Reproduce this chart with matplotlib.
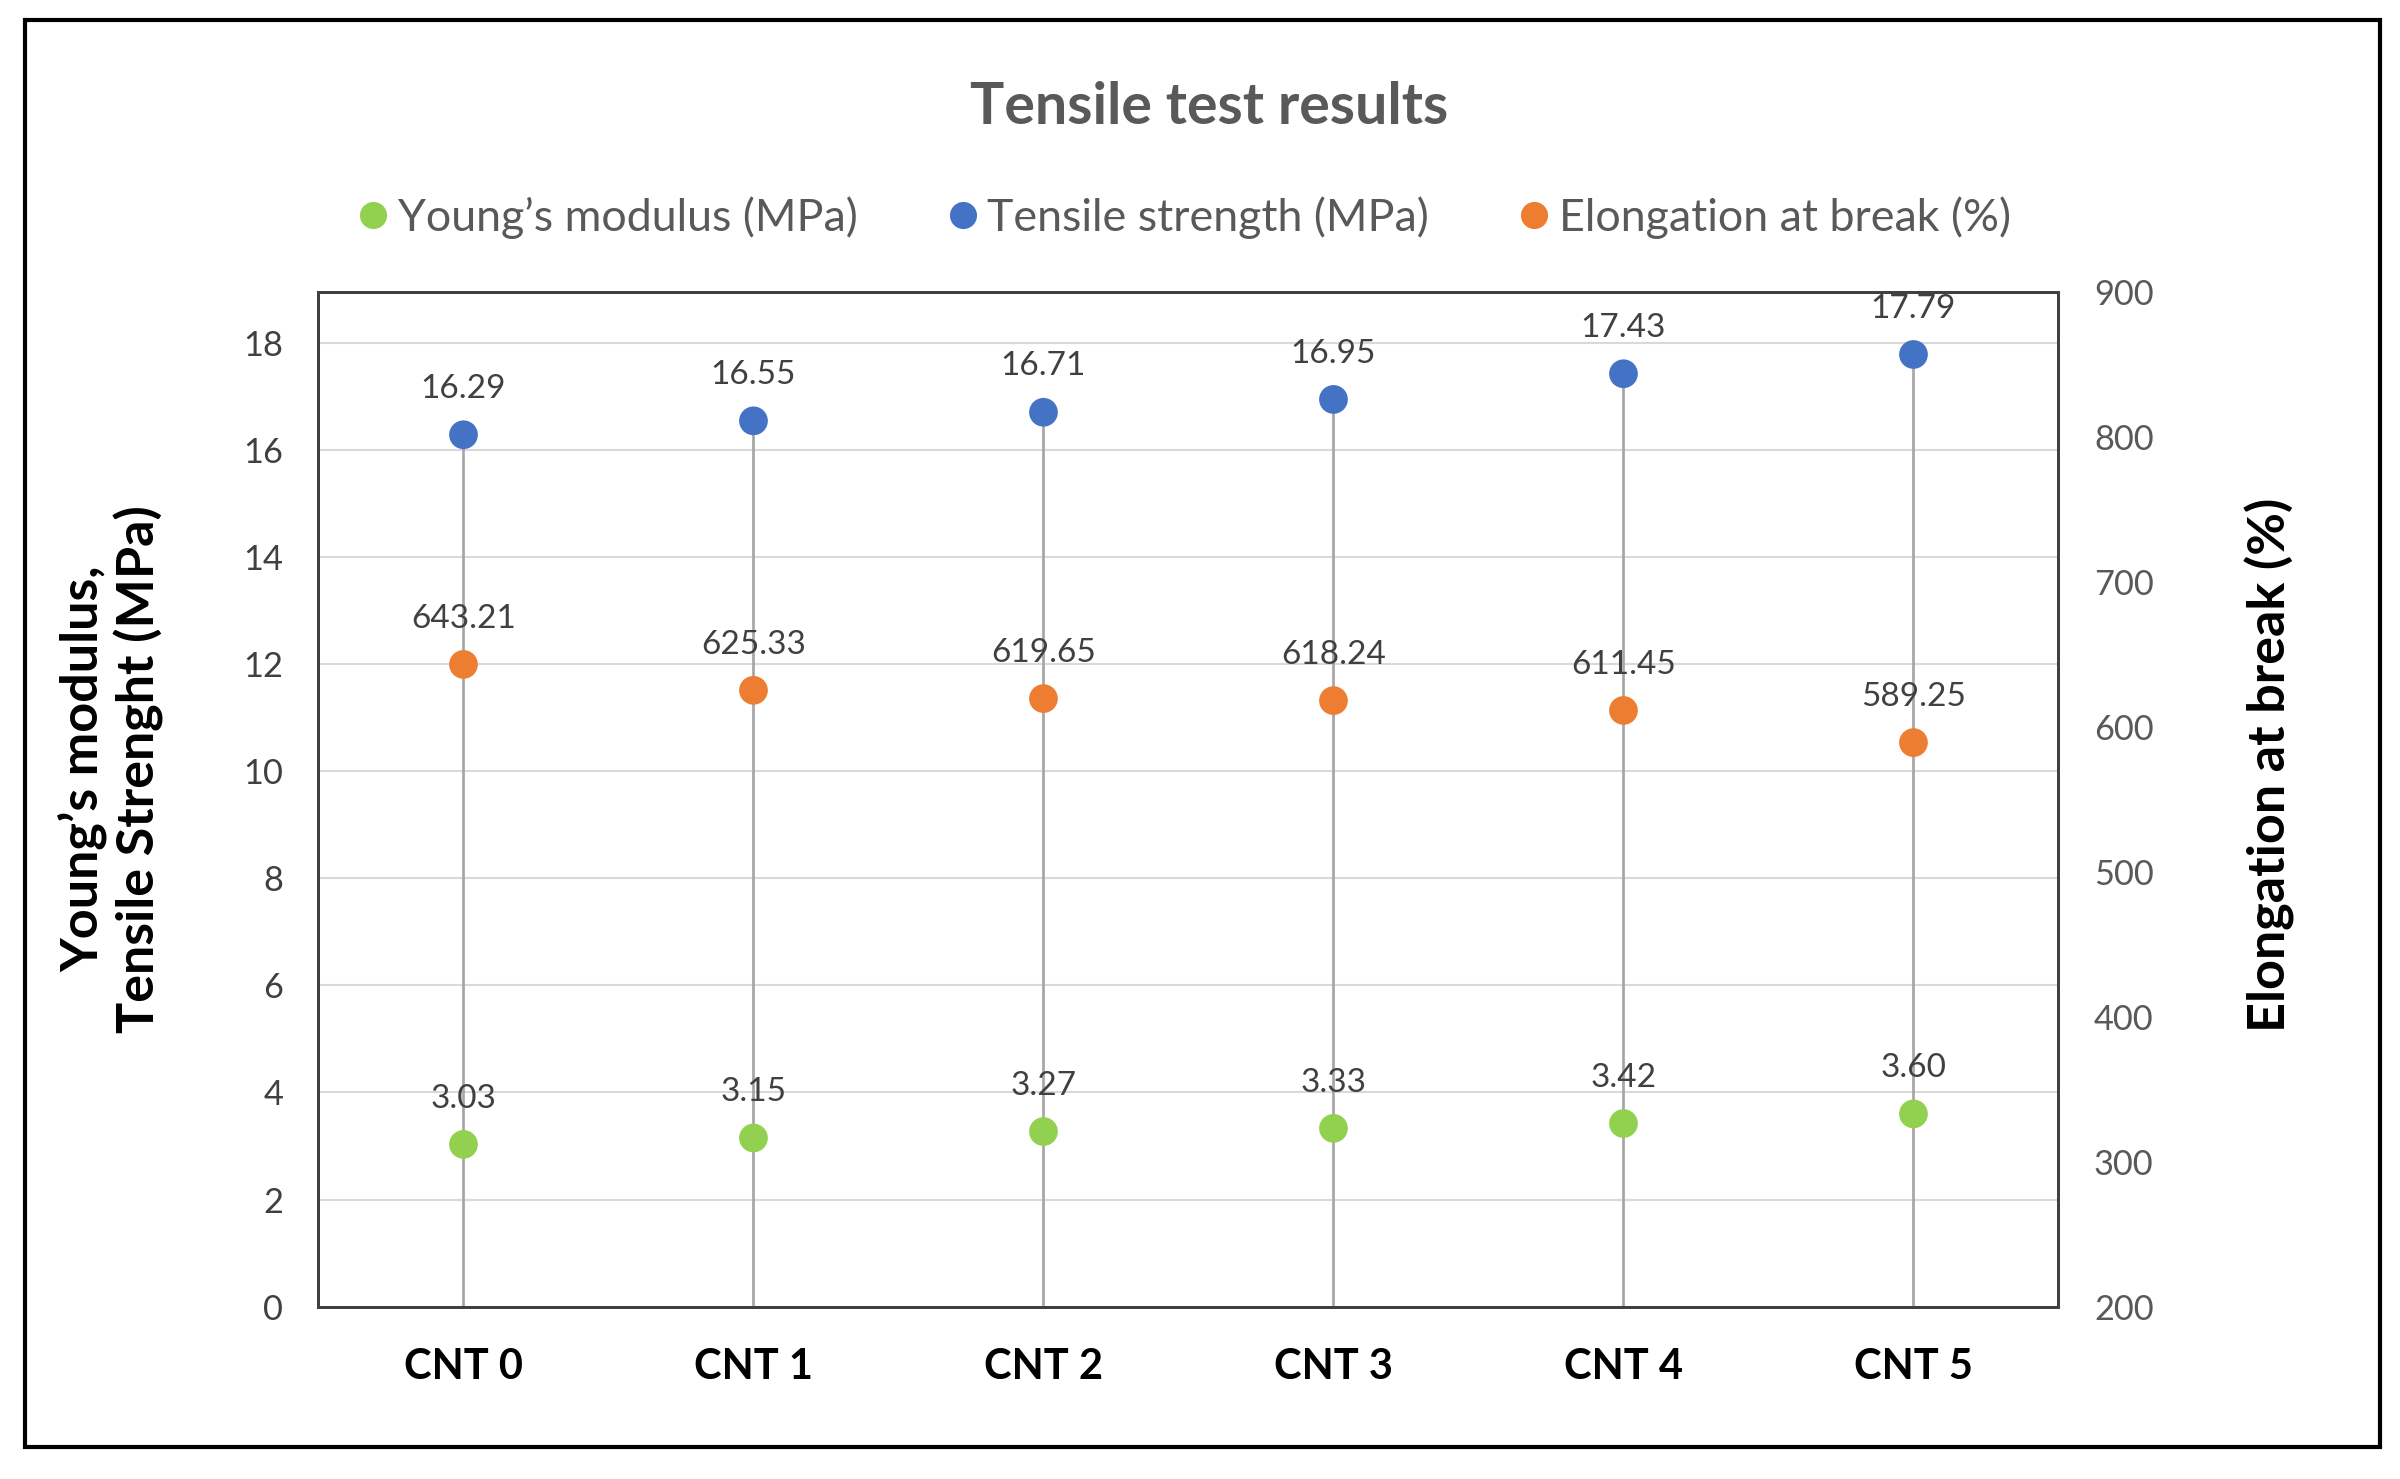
import matplotlib
matplotlib.use('Agg')
import matplotlib.pyplot as plt
from matplotlib.lines import Line2D
from matplotlib.patches import Rectangle

plt.rcParams['font.family'] = ['Lato', 'DejaVu Sans']

samples = ['CNT 0', 'CNT 1', 'CNT 2', 'CNT 3', 'CNT 4', 'CNT 5']
youngs = [3.03, 3.15, 3.27, 3.33, 3.42, 3.60]
tensile = [16.29, 16.55, 16.71, 16.95, 17.43, 17.79]
elongation = [643.21, 625.33, 619.65, 618.24, 611.45, 589.25]

green = '#92D050'
blue = '#4472C4'
orange = '#ED7D31'
txt = '#595959'

fig = plt.figure(figsize=(16, 9.86), dpi=150)
ax = fig.add_axes([0.1327, 0.1166, 0.7250, 0.6857])
ax2 = ax.twinx()

x = list(range(len(samples)))

# drop lines from the highest point down to the axis
ax.vlines(x, 0, tensile, color='#A6A6A6', lw=1.3, zorder=1)

ax.scatter(x, youngs, s=190, color=green, zorder=3, edgecolors='none')
ax.scatter(x, tensile, s=190, color=blue, zorder=3, edgecolors='none')
ax2.scatter(x, elongation, s=190, color=orange, zorder=3, edgecolors='none')

lab = dict(textcoords='offset points', xytext=(0, 22), ha='center', va='center',
           fontsize=16, color='#404040')
for i in x:
    ax.annotate(f'{youngs[i]:.2f}', (i, youngs[i]), **lab)
    ax.annotate(f'{tensile[i]:.2f}', (i, tensile[i]), **lab)
    ax2.annotate(f'{elongation[i]:.2f}', (i, elongation[i]), **lab)

ax.set_xlim(-0.5, 5.5)
ax.set_ylim(0, 18.95)
ax2.set_ylim(200, 900)
ax.set_yticks(range(0, 19, 2))
ax2.set_yticks(range(200, 901, 100))
ax.set_xticks(x)
ax.set_xticklabels(samples, fontweight='bold', fontsize=20, color='black')
ax.yaxis.grid(True, color='#D9D9D9', lw=1)
ax.set_axisbelow(True)

ax.tick_params(axis='y', length=0, labelsize=16.5, labelcolor='#404040', pad=17)
ax2.tick_params(axis='y', length=0, labelsize=16.5, labelcolor='#595959', pad=17)
ax.tick_params(axis='x', length=0, pad=20)

for a in (ax, ax2):
    for s in a.spines.values():
        s.set_color('#404040')
        s.set_linewidth(1.4)

fig.text(0.035, 0.48, "Young’s modulus,", rotation=90, ha='center', va='center',
         fontsize=25, fontweight='bold', color='black')
fig.text(0.058, 0.48, 'Tensile Strenght (MPa)', rotation=90, ha='center', va='center',
         fontsize=25, fontweight='bold', color='black')
fig.text(0.946, 0.483, 'Elongation at break (%)', rotation=90, ha='center', va='center',
         fontsize=25, fontweight='bold', color='black')

fig.text(0.504, 0.927, 'Tensile test results', ha='center', va='center',
         fontsize=27.5, fontweight='bold', color=txt)

handles = [Line2D([], [], marker='o', ls='none', color=c, markersize=12)
           for c in (green, blue, orange)]
names = ['Young’s modulus (MPa)', 'Tensile strength (MPa)', 'Elongation at break (%)']
leg = fig.legend(handles, names, loc='center', bbox_to_anchor=(0.492, 0.853), ncol=3,
                 frameon=False, fontsize=21.5, handletextpad=0.05, columnspacing=1.85,
                 handlelength=1.0)
for t in leg.get_texts():
    t.set_color(txt)

# outer border
fig.patches.append(Rectangle((0.0103, 0.0219), 0.9814, 0.9646, transform=fig.transFigure,
                             fill=False, edgecolor='black', lw=2))

fig.savefig('out.png', dpi=150)
